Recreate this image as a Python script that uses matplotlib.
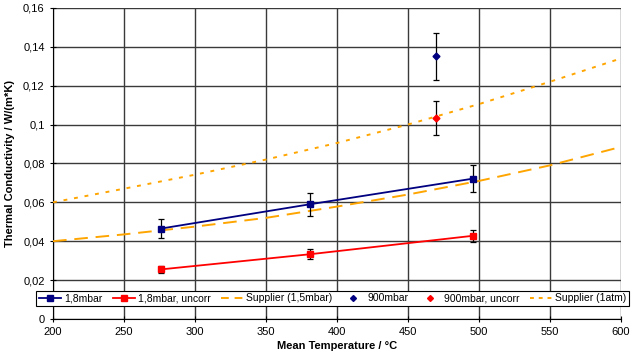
import matplotlib
matplotlib.use("Agg")
import matplotlib.pyplot as plt
from matplotlib.lines import Line2D
from matplotlib.ticker import FuncFormatter

plt.rcParams['font.family'] = ['Liberation Sans', 'DejaVu Sans']

# measured, 1.8 mbar
t_low = [276, 381, 496]
k_low = [0.0465, 0.0590, 0.0722]
k_low_err = [0.0050, 0.0058, 0.0070]
k_low_unc = [0.0255, 0.0333, 0.0428]
k_low_unc_err = [0.0020, 0.0025, 0.0030]

# measured, 900 mbar
t_high = [470]
k_high = [0.135]
k_high_err = [0.012]
k_high_unc = [0.1035]
k_high_unc_err = [0.0087]

# supplier curves
t_sup = [200, 250, 300, 350, 400, 450, 500, 550, 600]
k_sup_vac = [0.0400, 0.0435, 0.0475, 0.0520, 0.0578, 0.0640, 0.0710, 0.0790, 0.0885]
k_sup_atm = [0.0600, 0.0670, 0.0742, 0.0820, 0.0905, 0.1000, 0.1105, 0.1220, 0.1340]

navy = '#000080'
red = '#ff0000'
orange = '#ffa500'

fig = plt.figure(figsize=(6.31, 3.58), dpi=100)
ax = fig.add_axes([0.084, 0.109, 0.9, 0.869])

eb = dict(ecolor='black', elinewidth=0.9, capsize=2.5, capthick=0.9, zorder=4)
ax.errorbar(t_low, k_low, yerr=k_low_err, color=navy, marker='s', ms=4, lw=1.3, **eb)
ax.errorbar(t_low, k_low_unc, yerr=k_low_unc_err, color=red, marker='s', ms=4, lw=1.3, **eb)
ax.plot(t_sup, k_sup_vac, color=orange, lw=1.4, dashes=(7, 4), zorder=3)
ax.errorbar(t_high, k_high, yerr=k_high_err, color=navy, marker='D', ms=3.5, ls='none', **eb)
ax.errorbar(t_high, k_high_unc, yerr=k_high_unc_err, color=red, marker='D', ms=3.5, ls='none', **eb)
ax.plot(t_sup, k_sup_atm, color=orange, lw=1.4, dashes=(2, 3.5), zorder=3)

ax.set_xlim(200, 600)
ax.set_ylim(0, 0.16)
ax.set_xticks(range(200, 601, 50))
ax.set_yticks([0, 0.02, 0.04, 0.06, 0.08, 0.1, 0.12, 0.14, 0.16])
ax.yaxis.set_major_formatter(FuncFormatter(lambda v, p: ('%g' % round(v, 2)).replace('.', ',')))
ax.grid(True, color='#3a3a3a', lw=1.0)
ax.set_axisbelow(True)
for s in ['top', 'right']:
    ax.spines[s].set_visible(False)
ax.tick_params(labelsize=8, direction='inout', length=5)
ax.set_xlabel('Mean Temperature / °C', fontsize=8, fontweight='bold', labelpad=3)
ax.set_ylabel('Thermal Conductivity / W/(m*K)', fontsize=8, fontweight='bold', labelpad=6)

handles = [
    Line2D([], [], color=navy, marker='s', ms=4, lw=1.3),
    Line2D([], [], color=red, marker='s', ms=4, lw=1.3),
    Line2D([], [], color=orange, lw=1.4, dashes=(4, 3)),
    Line2D([], [], color=navy, marker='D', ms=3, ls='none'),
    Line2D([], [], color=red, marker='D', ms=3, ls='none'),
    Line2D([], [], color=orange, lw=1.4, dashes=(2, 2.5)),
]
labels = ['1,8mbar', '1,8mbar, uncorr', 'Supplier (1,5mbar)',
          '900mbar', '900mbar, uncorr', 'Supplier (1atm)']
leg = fig.legend(handles, labels, loc='center', bbox_to_anchor=(0.527, 0.167), ncol=6,
                 fontsize=7.5, frameon=True, fancybox=False, edgecolor='black',
                 framealpha=1, handlelength=2.1, handletextpad=0.3, columnspacing=1.0,
                 borderpad=0.25, borderaxespad=0)
leg.get_frame().set_linewidth(0.8)

fig.savefig('out.png', dpi=100)
